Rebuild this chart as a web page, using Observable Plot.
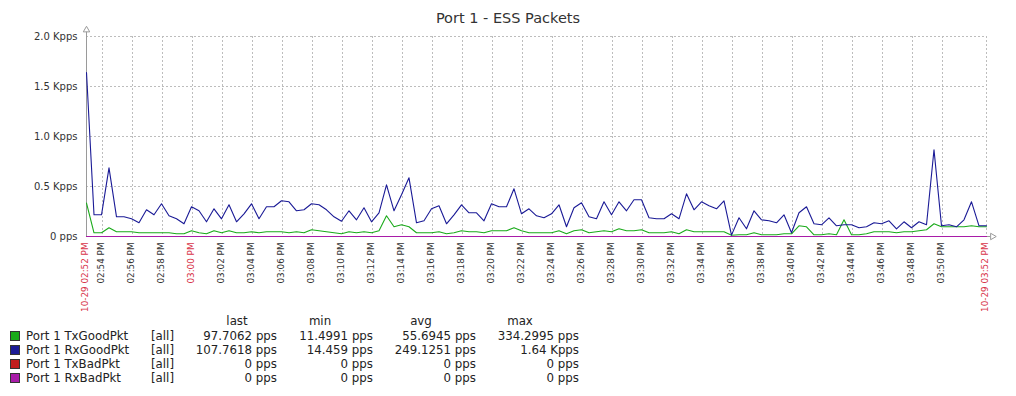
<!DOCTYPE html>
<html><head><meta charset="utf-8">
<script src="https://cdn.jsdelivr.net/npm/d3@7"></script>
<script src="https://cdn.jsdelivr.net/npm/@observablehq/plot@0.6"></script>
<style>
body{margin:0;background:#fff;font-family:"DejaVu Sans",sans-serif;}
#wrap{position:relative;width:1016px;height:396px;overflow:hidden;background:#fff;}
#chart{position:absolute;left:0;top:0;}
#title{position:absolute;left:0;width:1016px;top:9px;line-height:18px;text-align:center;font-size:14.5px;color:#333;}
.lg{position:absolute;font-size:11.8px;color:#222;white-space:nowrap;line-height:14px;}
.sq{position:absolute;width:10px;height:10px;box-sizing:border-box;border:1px solid #333;}
</style></head><body>
<div id="wrap"><div id="chart"></div><div id="title">Port 1 - ESS Packets</div><div id="legend"></div></div>
<script>
// ---- data ----
const seriesNames = ["Port 1 TxGoodPkt", "Port 1 RxGoodPkt", "Port 1 TxBadPkt", "Port 1 RxBadPkt"];
const statLast = ["97.7062 pps", "107.7618 pps", "0 pps", "0 pps"];
const statMin  = ["11.4991 pps", "14.459 pps", "0 pps", "0 pps"];
const statAvg  = ["55.6945 pps", "249.1251 pps", "0 pps", "0 pps"];
const statMax  = ["334.2995 pps", "1.64 Kpps", "0 pps", "0 pps"];

// values in pps, one sample every 30 s
const txGood = [334,37,37,87,47,47,47,37,37,37,
 37,37,27,27,57,37,27,57,37,57,
 37,37,47,37,47,47,47,37,47,37,
 67,57,47,37,27,47,37,47,37,57,
 207,97,117,97,37,37,37,47,27,37,
 57,47,47,37,57,57,57,87,57,37,
 37,37,37,57,27,57,67,37,47,57,
 47,77,57,57,67,37,37,37,47,27,
 67,47,47,47,47,47,12,17,17,37,
 17,17,17,27,27,107,97,17,17,27,
 17,167,17,17,27,47,47,47,37,47,
 47,57,67,127,97,97,97,97,107,97,
 98];
const rxGood = [1640,217,217,687,197,197,177,137,267,217,
 327,207,177,127,297,257,147,277,177,317,
 147,227,327,177,297,297,357,347,257,267,
 327,317,267,197,152,257,167,287,147,237,
 517,257,417,587,137,157,277,307,127,217,
 317,237,237,157,327,297,297,477,227,277,
 207,187,227,317,97,287,337,197,177,347,
 217,347,257,367,367,187,177,177,227,177,
 427,267,347,307,277,357,14,187,77,257,
 167,157,137,217,37,237,297,127,117,187,
 107,117,117,87,97,137,127,157,77,147,
 87,147,117,867,107,117,97,167,347,107,
 108];
const txBad = [0,0,0,0,0,0,0,0,0,0,0,0,0,0,0,0,0,0,0,0,0,0,0,0,0,0,0,0,0,0,0,0,0,0,0,0,0,0,0,0,
 0,0,0,0,0,0,0,0,0,0,0,0,0,0,0,0,0,0,0,0,0,0,0,0,0,0,0,0,0,0,0,0,0,0,0,0,0,0,0,0,
 0,0,0,0,0,0,0,0,0,0,0,0,0,0,0,0,0,0,0,0,0,0,0,0,0,0,0,0,0,0,0,0,0,0,0,0,0,0,0,0,0];
const rxBad = [0,0,0,0,0,0,0,0,0,0,0,0,0,0,0,0,0,0,0,0,0,0,0,0,0,0,0,0,0,0,0,0,0,0,0,0,0,0,0,0,
 0,0,0,0,0,0,0,0,0,0,0,0,0,0,0,0,0,0,0,0,0,0,0,0,0,0,0,0,0,0,0,0,0,0,0,0,0,0,0,0,
 0,0,0,0,0,0,0,0,0,0,0,0,0,0,0,0,0,0,0,0,0,0,0,0,0,0,0,0,0,0,0,0,0,0,0,0,0,0,0,0,0];

const xTickLabels = ["02:54 PM","02:56 PM","02:58 PM","03:02 PM","03:04 PM","03:06 PM","03:08 PM",
 "03:10 PM","03:12 PM","03:14 PM","03:16 PM","03:18 PM","03:20 PM","03:22 PM","03:24 PM","03:26 PM",
 "03:28 PM","03:30 PM","03:32 PM","03:34 PM","03:36 PM","03:38 PM","03:40 PM","03:42 PM","03:44 PM",
 "03:46 PM","03:48 PM","03:50 PM"];
const xMajorLabels = ["10-29 02:52 PM", "03:00 PM", "10-29 03:52 PM"];
const yTicks = [0, 500, 1000, 1500, 2000];
const yTickLabels = ["0 pps", "0.5 Kpps", "1.0 Kpps", "1.5 Kpps", "2.0 Kpps"];

// ---- time helpers ----
const start = new Date(Date.UTC(2020, 9, 29, 14, 52, 56));
const end = new Date(+start + 3600 * 1000);
const times = rxGood.map((_, i) => new Date(+start + i * 30000));
function parseHM(s) {
  const m = s.match(/(\d\d):(\d\d) (AM|PM)/);
  const h = (+m[1] % 12) + (m[3] === "PM" ? 12 : 0);
  return new Date(Date.UTC(2020, 9, 29, h, +m[2], 0));
}
const xTickTimes = xTickLabels.map(parseHM);
const xMajorTimes = [start, parseHM(xMajorLabels[1]), end];
const gridTimes = [...xTickTimes, xMajorTimes[1]];

const colors = ["#1aaa1a", "#1a1a96", "#c01c1c", "#a81ca8"];
const series = [txGood, rxGood, txBad, rxBad];

const chart = Plot.plot({
  width: 1016, height: 396,
  marginTop: 36, marginBottom: 160, marginLeft: 86, marginRight: 30,
  x: {type: "utc", domain: [start, end], axis: null},
  y: {domain: [0, 2000], ticks: yTicks, tickFormat: d => yTickLabels[yTicks.indexOf(d)], tickSize: 0, tickPadding: 9, label: null},
  style: {fontFamily: "DejaVu Sans", fontSize: "10px", color: "#333", background: "#fff", overflow: "visible"},
  marks: [
    Plot.ruleY(yTicks.slice(1), {stroke: "#bdbdbd", strokeDasharray: "2,2"}),
    Plot.ruleX([...gridTimes, end], {stroke: "#bdbdbd", strokeDasharray: "2,2"}),
    Plot.ruleX([start], {stroke: "#9a9a9a", insetTop: -6}),
    Plot.ruleY([0], {stroke: "#9a9a9a", insetRight: -4}),
    Plot.dot([start], {x: d => d, frameAnchor: "top", dy: -6.5, symbol: "triangle", r: 2.4, stroke: "#9a9a9a", fill: "#fff", strokeWidth: 1}),
    Plot.dot([end], {x: d => d, frameAnchor: "bottom", dx: 6, rotate: 90, symbol: "triangle", r: 2.4, stroke: "#9a9a9a", fill: "#fff", strokeWidth: 1}),
    ...series.map((s, k) => Plot.lineY(s, {x: (d, i) => times[i], y: d => d, stroke: colors[k], strokeWidth: 1.1})),
    Plot.text(xTickLabels, {x: (d, i) => xTickTimes[i], text: d => d, frameAnchor: "bottom", rotate: -90, textAnchor: "end", lineAnchor: "middle", dy: 6, dx: -1, fontSize: 8.8, fill: "#333"}),
    Plot.text(xMajorLabels, {x: (d, i) => xMajorTimes[i], text: d => d, frameAnchor: "bottom", rotate: -90, textAnchor: "end", lineAnchor: "middle", dy: 6, dx: -1, fontSize: 8.8, fill: "#d8344a"})
  ]
});
document.getElementById("chart").appendChild(chart);

// ---- legend ----
const lg = document.getElementById("legend");
function span(text, css) {
  const e = document.createElement("div");
  e.className = "lg"; e.textContent = text;
  Object.assign(e.style, css);
  lg.appendChild(e);
}
const headTop = 314;
[["last", 237], ["min", 320], ["avg", 421], ["max", 520]].forEach(([t, c]) =>
  span(t, {left: (c - 50) + "px", width: "100px", textAlign: "center", top: headTop + "px"}));
const rightEdges = [277, 373, 476, 579];
seriesNames.forEach((name, r) => {
  const top = 329 + r * 14;
  const sq = document.createElement("div");
  sq.className = "sq";
  Object.assign(sq.style, {left: "10px", top: (top + 2) + "px", background: colors[r]});
  lg.appendChild(sq);
  span(name, {left: "26px", top: top + "px"});
  span("[all]", {left: "151px", top: top + "px"});
  [statLast[r], statMin[r], statAvg[r], statMax[r]].forEach((v, j) =>
    span(v, {left: (rightEdges[j] - 150) + "px", width: "150px", textAlign: "right", top: top + "px"}));
});
</script>
</body></html>
